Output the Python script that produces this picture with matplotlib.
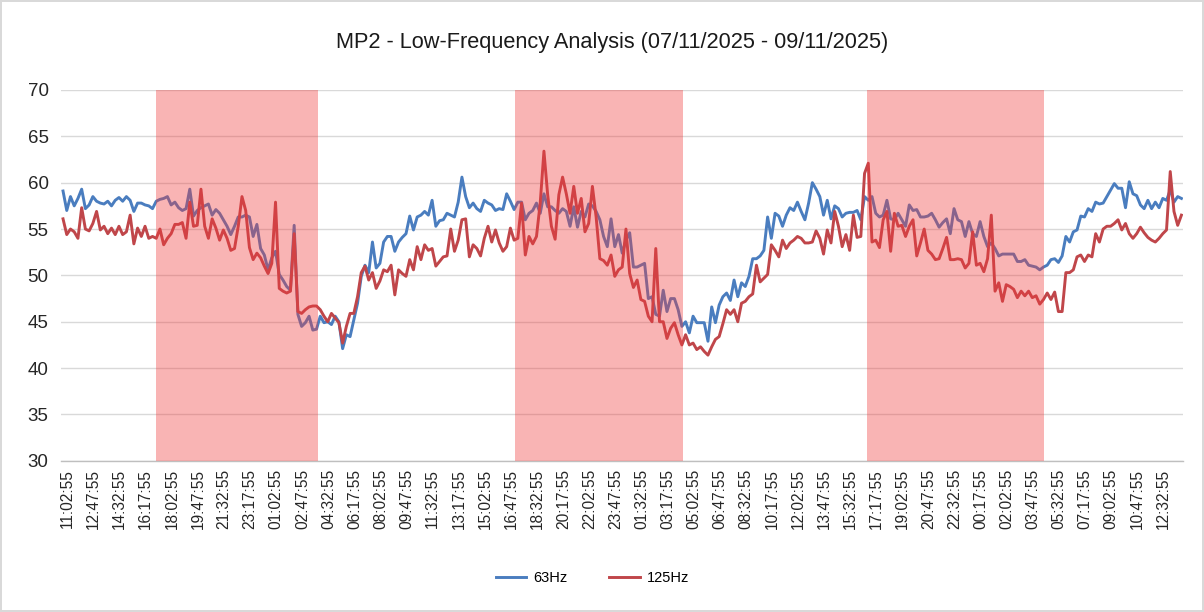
import matplotlib
matplotlib.use("Agg")
import matplotlib.pyplot as plt
from matplotlib.lines import Line2D
import matplotlib.transforms as mtransforms
import numpy as np

# ---------------- data ----------------
title = "MP2 - Low-Frequency Analysis (07/11/2025 - 09/11/2025)"
series_names = ["63Hz", "125Hz"]

hz63 = [
    59.1, 57.0, 58.5, 57.5, 58.3, 59.3, 57.2, 57.6, 58.5, 58.0, 57.8, 57.7, 58.0, 57.5, 58.1, 58.4, 58.0, 58.5, 58.1, 56.9, 57.8, 57.8, 57.6, 57.5, 57.2,
    58.0, 58.2, 58.3, 58.5, 57.6, 57.9, 57.3, 57.0, 57.2, 59.3, 56.4, 57.0, 57.3, 57.5, 57.7, 56.5, 57.1, 56.7, 56.0, 55.3, 54.4, 55.3, 56.3, 56.3, 56.5, 56.3,
    54.2, 55.5, 52.9, 52.2, 50.6, 51.9, 52.6, 50.1, 49.5, 48.8, 48.4, 55.4, 45.8, 44.5, 44.9, 45.6, 44.1, 44.2, 45.6, 44.9, 45.0, 44.7, 45.6, 45.0, 42.1,
    43.6, 43.4, 45.2, 47.0, 49.9, 51.1, 50.3, 53.6, 50.8, 51.3, 53.6, 54.2, 54.2, 52.6, 53.6, 54.1, 54.5, 56.4, 54.9, 56.3, 56.5, 56.9, 56.5, 58.1, 55.3, 55.9,
    56.0, 56.7, 56.5, 56.3, 57.9, 60.6, 58.5, 57.3, 57.8, 57.2, 56.9, 58.1, 57.8, 57.6, 57.0, 57.2, 57.1, 58.8, 58.0, 57.1, 57.9, 57.9, 56.0, 56.7, 57.0,
    57.8, 56.7, 58.8, 57.4, 57.4, 57.0, 56.7, 57.2, 56.9, 55.3, 57.4, 55.2, 56.9, 56.3, 57.7, 57.5, 56.9, 56.0, 54.2, 53.1, 56.1, 53.1, 54.4, 52.4, 53.8, 54.6,
    50.9, 50.9, 51.1, 51.3, 47.5, 47.7, 45.8, 45.6, 48.4, 46.1, 47.5, 47.5, 46.3, 44.5, 45.0, 43.8, 45.6, 44.9, 44.9, 44.9, 42.9, 46.6, 44.9, 46.8, 47.7,
    48.1, 47.3, 49.5, 47.7, 49.2, 48.8, 49.9, 51.8, 51.8, 52.1, 52.7, 56.3, 54.0, 56.7, 56.4, 55.3, 56.5, 57.3, 57.0, 57.9, 56.9, 56.0, 57.8, 60.0, 59.3, 58.5,
    56.5, 58.1, 56.1, 57.5, 57.2, 56.3, 56.7, 56.8, 56.8, 57.0, 56.0, 58.5, 58.1, 58.5, 56.7, 56.3, 56.5, 58.1, 56.1, 56.0, 56.7, 56.0, 55.3, 57.6, 57.0,
    57.1, 56.3, 56.3, 56.4, 56.7, 56.0, 55.2, 55.7, 56.1, 54.5, 57.2, 56.0, 55.8, 54.2, 55.8, 54.5, 54.2, 55.8, 54.2, 53.1, 53.5, 52.9, 52.1, 52.3, 52.3, 52.3,
    52.3, 51.5, 51.5, 51.7, 51.1, 51.0, 50.9, 50.6, 50.9, 51.1, 51.7, 51.8, 51.4, 52.1, 54.2, 53.6, 54.7, 54.9, 56.4, 56.3, 57.2, 56.9, 57.9, 57.7, 57.8,
    58.5, 59.2, 59.9, 59.4, 59.4, 57.3, 60.1, 58.8, 58.6, 57.6, 57.2, 58.1, 57.2, 57.9, 57.3, 58.3, 58.1, 59.2, 57.9, 58.5, 58.3,
]

hz125 = [
    56.1, 54.4, 55.0, 54.7, 54.0, 57.3, 55.0, 54.8, 55.6, 56.9, 54.9, 55.3, 54.5, 55.1, 54.4, 55.3, 54.4, 54.7, 56.5, 53.4, 55.1, 54.2, 55.3, 54.0, 54.2,
    54.0, 55.0, 53.3, 54.0, 54.5, 55.5, 55.5, 55.7, 54.0, 57.9, 55.3, 55.4, 59.3, 55.3, 54.0, 56.1, 55.1, 53.8, 54.9, 54.0, 52.7, 52.9, 55.3, 58.5, 57.0, 53.0,
    51.7, 52.4, 51.9, 51.0, 50.2, 51.3, 57.9, 48.6, 48.3, 48.1, 48.3, 54.5, 46.1, 45.9, 46.3, 46.6, 46.7, 46.7, 46.3, 45.6, 45.0, 45.9, 45.4, 44.9, 42.7,
    44.5, 45.9, 45.9, 47.7, 50.3, 51.0, 49.5, 50.3, 48.6, 49.4, 50.6, 50.4, 51.1, 47.9, 50.6, 50.2, 49.9, 51.7, 50.6, 53.1, 51.7, 53.3, 52.7, 52.9, 51.0, 51.5,
    52.0, 52.1, 55.0, 52.6, 53.8, 56.0, 56.1, 52.0, 53.3, 52.9, 52.1, 54.0, 55.3, 53.6, 54.9, 53.5, 52.6, 53.1, 55.1, 53.8, 54.0, 57.8, 52.2, 54.2, 53.4,
    54.2, 57.8, 63.4, 58.7, 55.3, 53.9, 58.7, 60.6, 58.8, 56.7, 59.6, 56.7, 58.3, 54.7, 55.6, 59.6, 56.3, 51.8, 51.6, 51.1, 52.2, 49.9, 50.6, 50.9, 55.0, 50.2,
    48.7, 49.5, 47.4, 47.2, 45.6, 45.0, 52.9, 45.0, 45.0, 43.2, 44.3, 44.9, 43.6, 42.5, 43.6, 42.5, 42.7, 42.0, 42.3, 41.8, 41.4, 42.3, 43.1, 43.4, 44.8,
    46.3, 45.8, 46.3, 45.0, 47.0, 47.2, 47.7, 48.0, 51.1, 49.3, 49.7, 50.1, 53.3, 52.7, 52.0, 53.8, 52.9, 53.5, 53.8, 54.2, 54.0, 53.5, 53.5, 53.6, 54.8, 54.0,
    52.3, 54.9, 53.5, 56.9, 55.3, 53.1, 54.4, 52.7, 56.5, 54.1, 54.2, 61.0, 62.1, 53.6, 53.8, 53.0, 56.0, 56.9, 52.6, 56.7, 55.3, 55.4, 54.2, 55.3, 56.0,
    52.1, 53.5, 55.0, 52.7, 52.3, 51.7, 51.8, 52.9, 54.1, 51.7, 51.7, 51.8, 51.7, 50.8, 51.3, 54.7, 51.1, 51.3, 50.4, 51.8, 56.5, 48.3, 49.2, 47.2, 49.0, 48.8,
    48.5, 47.6, 48.3, 47.8, 48.3, 47.6, 47.8, 46.9, 47.4, 48.1, 47.4, 48.2, 46.1, 46.1, 50.3, 50.3, 50.6, 52.0, 52.2, 51.5, 52.2, 52.0, 54.5, 53.6, 55.0,
    55.3, 55.3, 55.6, 56.0, 54.9, 55.6, 54.5, 54.0, 54.5, 55.2, 54.6, 54.1, 53.8, 53.6, 54.0, 54.5, 54.9, 61.2, 56.9, 55.4, 56.5,
]

# category labels shown on the axis (every 7th 15-minute sample)
tick_labels = [
    "11:02:55", "12:47:55", "14:32:55", "16:17:55", "18:02:55", "19:47:55", "21:32:55",
    "23:17:55", "01:02:55", "02:47:55", "04:32:55", "06:17:55", "08:02:55", "09:47:55",
    "11:32:55", "13:17:55", "15:02:55", "16:47:55", "18:32:55", "20:17:55", "22:02:55",
    "23:47:55", "01:32:55", "03:17:55", "05:02:55", "06:47:55", "08:32:55", "10:17:55",
    "12:02:55", "13:47:55", "15:32:55", "17:17:55", "19:02:55", "20:47:55", "22:32:55",
    "00:17:55", "02:02:55", "03:47:55", "05:32:55", "07:17:55", "09:02:55", "10:47:55",
    "12:32:55",
]
tick_step = 7

# night periods (in sample index units)
night_start = [24.9, 121.2, 215.7]
night_end = [68.4, 166.3, 263.1]

y_min, y_max, y_step = 30, 70, 5

# ---------------- plot ----------------
plt.rcParams['font.family'] = ['Liberation Sans', 'DejaVu Sans']

fig = plt.figure(figsize=(12.04, 6.12), dpi=100)
fig.patch.set_edgecolor('#d9d9d9')
fig.patch.set_linewidth(1.5)
ax = fig.add_axes([0.0508, 0.247, 0.932, 0.606])

n = len(hz63)
x = np.arange(n)
x2 = np.arange(len(hz125))

blue = '#4A7DBF'
red = '#C0464A'
ax.plot(x, hz63, color=blue, lw=2.1, zorder=3, solid_joinstyle='round')
ax.plot(x2, hz125, color=red, lw=2.1, zorder=3, solid_joinstyle='round')

for s, e in zip(night_start, night_end):
    ax.axvspan(s, e, ymin=0, ymax=1, color=(0.94, 0.23, 0.23), alpha=0.38, lw=0, zorder=4)

ax.set_xlim(-0.5, n - 0.5)
ax.set_ylim(y_min, y_max)
ax.set_yticks(np.arange(y_min, y_max + 1, y_step))
ax.yaxis.grid(True, color='#d9d9d9', lw=1.0, zorder=0)
ax.set_axisbelow(True)

tick_pos = np.arange(len(tick_labels)) * tick_step
ax.set_xticks(tick_pos)
ax.set_xticklabels(tick_labels, rotation=90, fontsize=11.2, color='#262626')
ax.tick_params(axis='x', length=0, pad=6)
ax.tick_params(axis='y', length=0, pad=9, labelsize=13.5, labelcolor='#262626')
shift = mtransforms.ScaledTranslation(4.5 / 100, 0, fig.dpi_scale_trans)
for lab in ax.get_xticklabels():
    lab.set_transform(lab.get_transform() + shift)

for sp in ['top', 'right', 'left']:
    ax.spines[sp].set_visible(False)
ax.spines['bottom'].set_color('#bfbfbf')
ax.spines['bottom'].set_linewidth(1.0)

fig.text(0.508, 0.931, title, ha='center', va='center', fontsize=15.7, color='#1a1a1a')

handles = [Line2D([0], [0], color=blue, lw=2.1), Line2D([0], [0], color=red, lw=2.1)]
fig.legend(handles, series_names, loc='center', bbox_to_anchor=(0.492, 0.055), ncol=2,
           frameon=False, fontsize=10.5, handlelength=2.1, columnspacing=2.9, handletextpad=0.45)

fig.savefig('out.png', dpi=100)
